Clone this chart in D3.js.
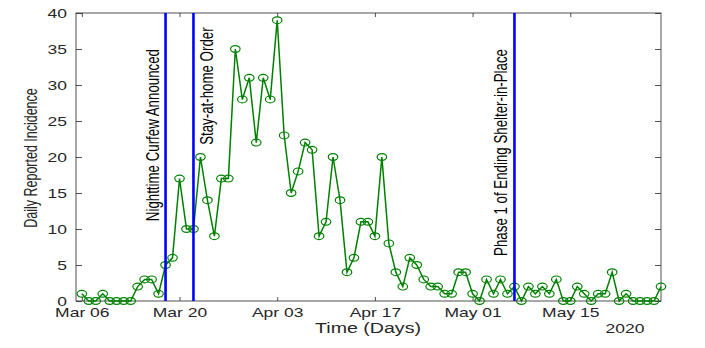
<!DOCTYPE html>
<html>
<head>
<meta charset="utf-8">
<script src="https://cdn.jsdelivr.net/npm/d3@7"></script>
<style>
  body { margin: 0; background: #fff; }
  text { font-family: "Liberation Sans", Arial, Helvetica, sans-serif; fill: #262626; }
</style>
</head>
<body>
<div id="chart"></div>
<script>
// daily reported cases, one value per day starting at startDate
var startDate = "2020-03-06";
var incidence = [
  // Mar 06 - Mar 31
  1, 0, 0, 1, 0, 0, 0, 0, 2, 3, 3, 1, 5, 6, 17, 10, 10, 20, 14, 9, 17, 17, 35, 28, 31, 22,
  // Apr 01 - Apr 30
  31, 28, 39, 23, 15, 18, 22, 21, 9, 11, 20, 14, 4, 6, 11, 11, 9, 20, 8, 4, 2, 6, 5, 3, 2, 2, 1, 1, 4, 4,
  // May 01 - May 28
  1, 0, 3, 1, 3, 1, 2, 0, 2, 1, 2, 1, 3, 0, 0, 2, 1, 0, 1, 1, 4, 0, 1, 0, 0, 0, 0, 2
];

var xTickDates = ["2020-03-06", "2020-03-20", "2020-04-03", "2020-04-17", "2020-05-01", "2020-05-15"];
var yTicks = [0, 5, 10, 15, 20, 25, 30, 35, 40];

var eventDates = ["2020-03-18", "2020-03-22", "2020-05-07"];
var eventLabels = ["Nighttime Curfew Announced", "Stay-at-home Order", "Phase 1 of Ending Shelter-in-Place"];
var eventLabelTop = [35, 38, 35];   // where each label ends (data units)
var eventLabelSide = ["left", "right", "left"];

var svgWidth = 705;
var svgHeight = 348;

var margin = {
  top: 13,
  right: 44,
  bottom: 47,
  left: 76
};

var width = svgWidth - margin.left - margin.right;
var height = svgHeight - margin.top - margin.bottom;

// the original figure is stretched sideways, so text and markers get widened
var sx = 1.4;

var svg = d3.select("#chart")
  .append("svg")
  .attr("width", svgWidth)
  .attr("height", svgHeight);

var chartGroup = svg.append("g")
  .attr("transform", `translate(${margin.left}, ${margin.top})`);

var parseDay = d3.utcParse("%Y-%m-%d");
var day0 = parseDay(startDate);

var data = incidence.map((v, i) => ({ date: d3.utcDay.offset(day0, i), value: v }));

var xScale = d3.scaleUtc()
  .domain([d3.utcHour.offset(day0, -20), d3.utcDay.offset(day0, incidence.length - 1)])
  .range([0, width]);

var yScale = d3.scaleLinear()
  .domain([0, 40])
  .range([height, 0]);

var axisColor = "#262626";

/********** axes, MATLAB style: ticks inside the box **********/
var bottomAxis = d3.axisBottom(xScale)
  .tickValues(xTickDates.map(parseDay))
  .tickFormat(d3.utcFormat("%b %d"))
  .tickSizeInner(-4)
  .tickSizeOuter(0);

var xAxis = chartGroup.append("g")
  .attr("transform", `translate(0, ${height})`)
  .call(bottomAxis);

xAxis.selectAll("text")
  .attr("y", 16)
  .attr("dy", null)
  .attr("transform", `scale(${sx},1)`)
  .style("font-size", "12.5px")
  .style("fill", axisColor);

var topAxis = d3.axisTop(xScale)
  .tickValues(xTickDates.map(parseDay))
  .tickFormat("")
  .tickSizeInner(-4)
  .tickSizeOuter(0);

chartGroup.append("g").call(topAxis);

var leftAxis = d3.axisLeft(yScale)
  .tickValues(yTicks)
  .tickSizeInner(-6)
  .tickSizeOuter(0);

var yAxis = chartGroup.append("g").call(leftAxis);

yAxis.selectAll("text")
  .attr("x", -9 / sx)
  .attr("transform", `scale(${sx},1)`)
  .style("font-size", "12.5px")
  .style("fill", axisColor);

var rightAxis = d3.axisRight(yScale)
  .tickValues(yTicks)
  .tickFormat("")
  .tickSizeInner(-6)
  .tickSizeOuter(0);

chartGroup.append("g")
  .attr("transform", `translate(${width}, 0)`)
  .call(rightAxis);

chartGroup.selectAll(".tick line").attr("stroke", axisColor).attr("stroke-width", 0.8);
chartGroup.selectAll(".domain").remove();

chartGroup.append("rect")
  .attr("width", width)
  .attr("height", height)
  .attr("fill", "none")
  .attr("stroke", axisColor)
  .attr("stroke-width", 0.8);

/********** series **********/
var line = d3.line()
  .x(d => xScale(d.date))
  .y(d => yScale(d.value));

chartGroup.append("path")
  .datum(data)
  .attr("fill", "none")
  .attr("stroke", "#008000")
  .attr("stroke-width", 1.5)
  .attr("d", line);

chartGroup.append("g").selectAll("ellipse")
  .data(data)
  .enter()
  .append("ellipse")
  .attr("cx", d => xScale(d.date))
  .attr("cy", d => yScale(d.value))
  .attr("rx", 3.4 * sx)
  .attr("ry", 3.4)
  .attr("fill", "none")
  .attr("stroke", "#008000")
  .attr("stroke-width", 1.2);

/********** event lines and labels **********/
eventDates.forEach(function(ds, i) {
  var ex = xScale(parseDay(ds));

  chartGroup.append("line")
    .attr("x1", ex)
    .attr("x2", ex)
    .attr("y1", 0)
    .attr("y2", height)
    .attr("stroke", "#0000ff")
    .attr("stroke-width", 2.6);

  // baseline sits on the right of rotated text
  var bx = eventLabelSide[i] === "left" ? ex - 7 : ex + 20;

  chartGroup.append("text")
    .attr("transform", `translate(${bx}, ${yScale(eventLabelTop[i])}) scale(${sx},1) rotate(-90)`)
    .attr("text-anchor", "end")
    .style("font-size", "13.3px")
    .style("fill", "#000")
    .text(eventLabels[i]);
});

/********** axis labels **********/
svg.append("text")
  .attr("transform", `translate(37, ${margin.top + height / 2 + 1}) scale(${sx},1) rotate(-90)`)
  .attr("text-anchor", "middle")
  .style("font-size", "12.5px")
  .text("Daily Reported Incidence");

svg.append("text")
  .attr("transform", `translate(368, 333) scale(${sx},1)`)
  .attr("text-anchor", "middle")
  .style("font-size", "14px")
  .text("Time (Days)");

svg.append("text")
  .attr("transform", `translate(625, 333) scale(${sx},1)`)
  .attr("text-anchor", "middle")
  .style("font-size", "12.5px")
  .text("2020");
</script>
</body>
</html>
